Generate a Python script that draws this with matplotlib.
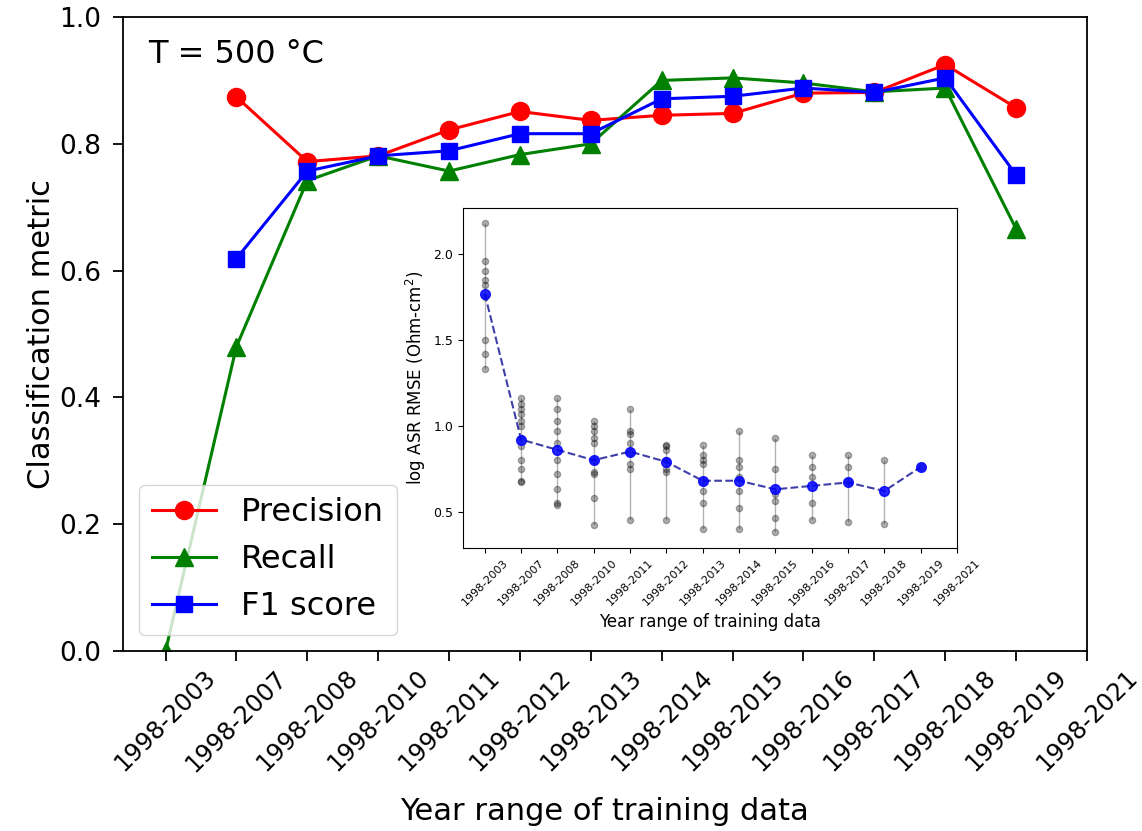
import matplotlib
matplotlib.use("Agg")
import matplotlib.pyplot as plt
import numpy as np

# x positions are the training year ranges
year_ranges = ['1998-2003', '1998-2007', '1998-2008', '1998-2010', '1998-2011',
               '1998-2012', '1998-2013', '1998-2014', '1998-2015', '1998-2016',
               '1998-2017', '1998-2018', '1998-2019', '1998-2021']

# classification metrics (first range has no precision / F1)
precision = [np.nan, 0.874, 0.772, 0.781, 0.822, 0.851, 0.837, 0.845, 0.848,
             0.880, 0.881, 0.925, 0.857]
recall = [0.0, 0.480, 0.742, 0.781, 0.757, 0.783, 0.800, 0.900, 0.904,
          0.896, 0.882, 0.888, 0.666]
f1 = [np.nan, 0.619, 0.757, 0.781, 0.789, 0.816, 0.816, 0.871, 0.875,
      0.888, 0.881, 0.904, 0.751]

# inset: log ASR RMSE of the individual runs and their mean
rmse_runs = [
    [2.18, 1.96, 1.90, 1.85, 1.82, 1.75, 1.50, 1.42, 1.33],
    [1.16, 1.13, 1.10, 1.07, 1.03, 1.00, 0.93, 0.88, 0.80, 0.75, 0.68, 0.67],
    [1.16, 1.10, 1.03, 0.97, 0.90, 0.80, 0.72, 0.63, 0.55, 0.54],
    [1.03, 1.00, 0.97, 0.93, 0.90, 0.80, 0.73, 0.72, 0.58, 0.42],
    [1.10, 0.97, 0.95, 0.90, 0.85, 0.78, 0.75, 0.45],
    [0.89, 0.88, 0.86, 0.80, 0.75, 0.73, 0.45],
    [0.89, 0.83, 0.80, 0.78, 0.68, 0.62, 0.55, 0.40],
    [0.97, 0.80, 0.76, 0.70, 0.62, 0.52, 0.40],
    [0.93, 0.75, 0.60, 0.56, 0.46, 0.38],
    [0.83, 0.76, 0.70, 0.55, 0.45],
    [0.83, 0.76, 0.67, 0.44],
    [0.80, 0.43],
    [0.76],
]
rmse_mean = [1.77, 0.92, 0.86, 0.80, 0.85, 0.79, 0.68, 0.68, 0.63, 0.65, 0.67, 0.62, 0.76]

fig = plt.figure(figsize=(11.42, 8.31), dpi=100, facecolor='white')
ax = fig.add_axes([0.1077, 0.2166, 0.8441, 0.7629])

x = np.arange(len(recall))
ax.plot(x, precision, '-o', color='red', lw=2.2, ms=13, label='Precision')
ax.plot(x, recall, '-^', color='green', lw=2.2, ms=13, label='Recall')
ax.plot(x, f1, '-s', color='blue', lw=2.2, ms=12, label='F1 score')

ax.set_ylim(0, 1.0)
ax.set_xticks(np.arange(len(year_ranges)))
ax.set_xticklabels(year_ranges, rotation=45, fontsize=17.5)
ax.tick_params(axis='y', labelsize=19, pad=9)
ax.tick_params(length=7, width=1.3)
for s in ax.spines.values():
    s.set_linewidth(1.3)
ax.set_ylabel('Classification metric', fontsize=22, labelpad=2)
ax.set_xlabel('Year range of training data', fontsize=22, labelpad=15)
ax.text(0.026, 0.965, 'T = 500 °C', transform=ax.transAxes, va='top', ha='left', fontsize=23)
ax.legend(loc='lower left', fontsize=23)

# inset
axin = fig.add_axes([0.4054, 0.341, 0.4326, 0.4087])
for i, runs in enumerate(rmse_runs):
    axin.vlines(i, min(runs), max(runs), color='gray', lw=1, alpha=0.6)
    axin.scatter([i] * len(runs), runs, s=20, color='black', alpha=0.3, zorder=2)
axin.plot(x, rmse_mean, '--', color='#2a2aa0', lw=1.5, alpha=0.9, zorder=3)
axin.plot(x, rmse_mean, 'o', color='blue', ms=7, alpha=0.85, zorder=4)
axin.set_xticks(np.arange(len(year_ranges)))
axin.set_xticklabels(year_ranges, rotation=45, fontsize=8)
axin.set_yticks([0.5, 1.0, 1.5, 2.0])
axin.tick_params(axis='y', labelsize=9)
axin.set_ylabel('log ASR RMSE (Ohm-cm$^2$)', fontsize=12)
axin.set_xlabel('Year range of training data', fontsize=12)

fig.savefig('out.png', dpi=100)
